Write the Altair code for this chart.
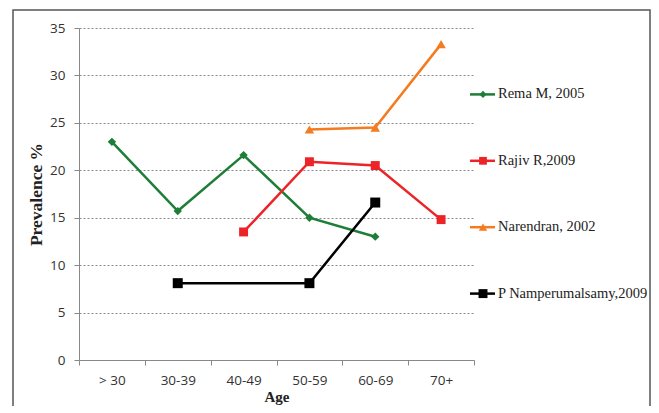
import altair as alt
import pandas as pd

ages = ["> 30", "30-39", "40-49", "50-59", "60-69", "70+"]
series_names = ["Rema M, 2005", "Rajiv R,2009", "Narendran, 2002", "P Namperumalsamy,2009"]
colors = ["#1E7D36", "#EC2427", "#F47B20", "#000000"]
shapes = ["diamond", "square", "triangle-up", "square"]

rema = [23.0, 15.7, 21.6, 15.0, 13.0, None]
rajiv = [None, None, 13.5, 20.9, 20.5, 14.8]
narendran = [None, None, None, 24.3, 24.5, 33.3]
namperumalsamy = [None, 8.1, None, 8.1, 16.6, None]

rows = []
for name, vals in zip(series_names, [rema, rajiv, narendran, namperumalsamy]):
    for a, v in zip(ages, vals):
        if v is not None:
            rows.append({"series": name, "age": a, "value": v})
df = pd.DataFrame(rows)

color_scale = alt.Scale(domain=series_names, range=colors)
shape_scale = alt.Scale(domain=series_names, range=shapes)

x_enc = alt.X("age:N", sort=ages, scale=alt.Scale(type="band", paddingInner=0, paddingOuter=0),
              axis=alt.Axis(title="Age", labelAngle=0, tickBand="extent", tickSize=5,
                            tickColor="#888888", domainColor="#888888", labelPadding=8,
                            labelFont="Open Sans", labelFontSize=13.5, labelColor="#333333",
                            titleFont="Liberation Serif", titleFontSize=15, titleFontWeight="bold",
                            titleColor="#222222", titlePadding=3))
y_enc = alt.Y("value:Q", scale=alt.Scale(domain=[0, 35]),
              axis=alt.Axis(title="Prevalence %", values=[0, 5, 10, 15, 20, 25, 30, 35],
                            grid=True, gridDash=[2, 2], gridColor="#8a8a8a", gridWidth=1,
                            tickSize=5, tickColor="#888888", domainColor="#888888",
                            labelPadding=9, labelFont="Open Sans", labelFontSize=13.5,
                            labelColor="#333333", titleFont="Liberation Serif", titleFontSize=17.5,
                            titleFontWeight="bold", titleColor="#222222", titlePadding=4))

base = alt.Chart(df).encode(
    x=x_enc, y=y_enc,
    color=alt.Color("series:N", scale=color_scale, legend=None),
    detail="series:N",
)
lines = base.mark_line(strokeWidth=2.5)
points = base.mark_point(filled=True, opacity=1).encode(
    shape=alt.Shape("series:N", scale=shape_scale, legend=None),
    size=alt.Size("series:N", scale=alt.Scale(domain=series_names, range=[70, 100, 90, 100]), legend=None),
)
main = alt.layer(lines, points)

leg_df = pd.DataFrame({"series": series_names})
leg_y = alt.Y("series:N", sort=series_names, scale=alt.Scale(type="point", padding=1.22), axis=None)
leg_base = alt.Chart(leg_df).encode(y=leg_y)
leg_rule = leg_base.mark_rule(strokeWidth=2.5).encode(
    x=alt.value(391), x2=alt.value(416),
    color=alt.Color("series:N", scale=color_scale, legend=None))
leg_pt = leg_base.mark_point(filled=True, opacity=1).encode(
    x=alt.value(404),
    color=alt.Color("series:N", scale=color_scale, legend=None),
    shape=alt.Shape("series:N", scale=shape_scale, legend=None),
    size=alt.Size("series:N", scale=alt.Scale(domain=series_names, range=[50, 80, 70, 80]), legend=None),
)
leg_text = leg_base.mark_text(align="left", baseline="middle", font="Liberation Serif",
                              fontSize=14.5).encode(
    x=alt.value(419), text="series:N", color=alt.value("#222222"))
legend = alt.layer(leg_rule, leg_pt, leg_text)

frame = alt.Chart(pd.DataFrame({"a": [0]})).mark_rect(
    fillOpacity=0, stroke="#555555", strokeWidth=1.5, clip=False
).encode(x=alt.value(-66), x2=alt.value(571), y=alt.value(-18), y2=alt.value(440))

chart = alt.layer(frame, main, legend).resolve_scale(y="independent", size="independent").properties(
    width=395, height=332,
    autosize=alt.AutoSizeParams(type="none"),
    padding={"left": 71, "top": 20, "right": 177, "bottom": 46},
).configure_view(stroke=None)

chart.save("out.html", embed_options={"renderer": "svg", "actions": False})
